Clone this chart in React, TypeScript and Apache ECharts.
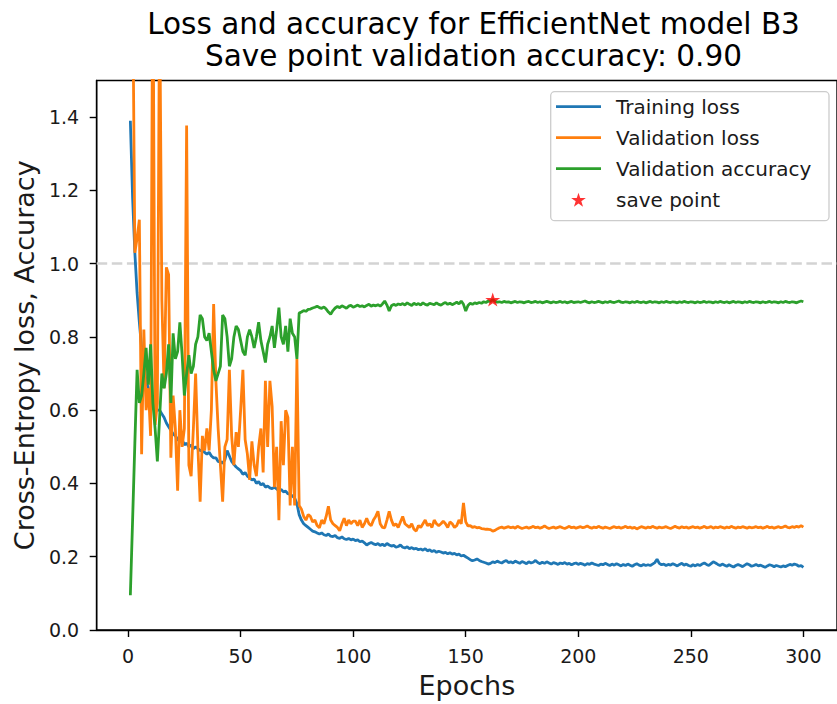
import React, { useEffect, useRef } from "react";
import * as echarts from "echarts";

const FONT = "DejaVu Sans";

const epochs: number[] = Array.from({ length: 300 }, (_, i) => i + 1);

const trainingLoss: number[] = [
  1.39, 1.18, 1.03, 0.92, 0.84, 0.77, 0.72, 0.68, 0.66, 0.64,
  0.62, 0.61, 0.6, 0.6, 0.59, 0.58, 0.565, 0.555, 0.545, 0.535,
  0.53, 0.52, 0.515, 0.52, 0.505, 0.51, 0.5, 0.505, 0.495, 0.5,
  0.495, 0.49, 0.49, 0.485, 0.48, 0.485, 0.475, 0.47, 0.47, 0.46,
  0.46, 0.455, 0.465, 0.49, 0.475, 0.46, 0.452, 0.445, 0.44, 0.435,
  0.425, 0.43, 0.42, 0.415, 0.41, 0.412, 0.4, 0.405, 0.396, 0.4,
  0.39, 0.393, 0.388, 0.386, 0.39, 0.385, 0.38, 0.384, 0.377, 0.379,
  0.372, 0.37, 0.366, 0.36, 0.345, 0.315, 0.3, 0.29, 0.285, 0.28,
  0.275, 0.27, 0.268, 0.265, 0.262, 0.265, 0.26, 0.258, 0.262, 0.256,
  0.255, 0.258, 0.252, 0.25, 0.254, 0.249, 0.247, 0.25, 0.246, 0.248,
  0.244, 0.246, 0.241, 0.243, 0.238, 0.232, 0.236, 0.239, 0.235, 0.233,
  0.236, 0.231, 0.234, 0.23, 0.236, 0.232, 0.229, 0.231, 0.226, 0.228,
  0.232, 0.226, 0.224, 0.227, 0.222, 0.225, 0.221, 0.223, 0.219, 0.221,
  0.218, 0.222, 0.216, 0.219, 0.214, 0.217, 0.212, 0.215, 0.213, 0.21,
  0.212, 0.208, 0.211, 0.207, 0.209, 0.205, 0.207, 0.202, 0.204, 0.2,
  0.196, 0.192, 0.189, 0.191, 0.194, 0.19, 0.187, 0.185, 0.183, 0.18,
  0.182, 0.186, 0.184, 0.188, 0.185, 0.183, 0.187, 0.19, 0.184, 0.186,
  0.183, 0.188, 0.185, 0.182, 0.187, 0.184, 0.181, 0.186, 0.183, 0.185,
  0.19, 0.184, 0.181, 0.185, 0.182, 0.186, 0.183, 0.18, 0.184, 0.182,
  0.179, 0.183, 0.181, 0.184, 0.18, 0.182, 0.178, 0.181, 0.183, 0.179,
  0.182, 0.18, 0.177, 0.181, 0.179, 0.183, 0.18, 0.178, 0.176, 0.18,
  0.178, 0.182, 0.179, 0.176, 0.18, 0.177, 0.181, 0.178, 0.175, 0.179,
  0.176, 0.18, 0.177, 0.174, 0.178, 0.181, 0.177, 0.175, 0.179, 0.176,
  0.178, 0.176, 0.18, 0.184, 0.193, 0.182, 0.178, 0.18, 0.176, 0.179,
  0.177, 0.181, 0.178, 0.175, 0.179, 0.182, 0.177, 0.18, 0.176, 0.174,
  0.178, 0.175, 0.179, 0.176, 0.18, 0.183, 0.179, 0.176, 0.181, 0.186,
  0.183, 0.179, 0.176, 0.18, 0.177, 0.174, 0.178, 0.175, 0.172, 0.176,
  0.179, 0.176, 0.173, 0.177, 0.181, 0.178, 0.174, 0.176, 0.179, 0.175,
  0.177, 0.174, 0.171, 0.175, 0.178, 0.176, 0.173, 0.176, 0.174, 0.172,
  0.175, 0.173, 0.176, 0.179, 0.177, 0.18, 0.178, 0.174, 0.176, 0.171,
];

const validationLoss: number[] = [
  2.6, 1.8, 1.03, 1.07, 1.12, 0.48, 0.82, 0.6, 0.66, 0.53,
  1.9, 0.56, 0.62, 1.75, 0.9, 0.66, 0.99, 0.97, 0.47, 0.64,
  0.55, 0.38, 0.6, 0.5, 0.55, 1.377, 0.45, 0.42, 0.55, 0.7,
  0.5, 0.35, 0.53, 0.49, 0.55, 0.49, 0.6, 0.89, 0.68, 0.55,
  0.45, 0.35, 0.5, 0.52, 0.71, 0.53, 0.45, 0.54, 0.5, 0.6,
  0.71, 0.52, 0.48, 0.41, 0.515, 0.45, 0.42, 0.5, 0.55, 0.43,
  0.68, 0.5, 0.68, 0.61, 0.39, 0.5, 0.3, 0.57, 0.45, 0.6,
  0.58, 0.34, 0.5, 0.34, 0.74, 0.34, 0.33, 0.31, 0.3, 0.315,
  0.31, 0.295, 0.3, 0.285, 0.279, 0.3, 0.29, 0.31, 0.338, 0.3,
  0.29, 0.285, 0.28, 0.271, 0.29, 0.305, 0.285, 0.3, 0.29, 0.297,
  0.297, 0.285, 0.3, 0.28, 0.29, 0.305, 0.29, 0.285, 0.3, 0.31,
  0.324, 0.29, 0.28, 0.279, 0.3, 0.324, 0.3, 0.285, 0.29, 0.28,
  0.295, 0.31, 0.29, 0.285, 0.28, 0.29, 0.275, 0.27, 0.285, 0.28,
  0.29, 0.3, 0.285, 0.29, 0.28, 0.3, 0.29, 0.285, 0.29, 0.297,
  0.29, 0.28, 0.295, 0.29, 0.28, 0.285, 0.3, 0.29, 0.347, 0.295,
  0.284, 0.285, 0.28, 0.282, 0.279, 0.28, 0.277, 0.276, 0.275, 0.275,
  0.274, 0.27, 0.272, 0.276, 0.279, 0.281, 0.278, 0.28, 0.282, 0.279,
  0.281, 0.278, 0.283, 0.28, 0.277, 0.279, 0.281, 0.278, 0.28, 0.283,
  0.279, 0.281, 0.278, 0.28, 0.284, 0.28, 0.277, 0.279, 0.281, 0.278,
  0.28, 0.282, 0.279, 0.277, 0.28, 0.283, 0.279, 0.281, 0.278, 0.28,
  0.282, 0.279, 0.281, 0.284, 0.28, 0.278, 0.281, 0.279, 0.283, 0.28,
  0.278, 0.281, 0.279, 0.277, 0.28, 0.282, 0.279, 0.281, 0.278, 0.28,
  0.283, 0.279, 0.281, 0.278, 0.28, 0.276, 0.279, 0.282, 0.28, 0.278,
  0.281, 0.279, 0.283, 0.28, 0.278, 0.281, 0.279, 0.28, 0.282, 0.279,
  0.277, 0.28, 0.283, 0.28, 0.278, 0.282, 0.279, 0.281, 0.278, 0.28,
  0.282, 0.279, 0.281, 0.278, 0.28, 0.283, 0.279, 0.28, 0.282, 0.278,
  0.281, 0.279, 0.282, 0.28, 0.278, 0.281, 0.279, 0.283, 0.28, 0.278,
  0.281, 0.279, 0.282, 0.28, 0.278, 0.281, 0.279, 0.28, 0.282, 0.279,
  0.281, 0.278, 0.28, 0.283, 0.279, 0.281, 0.278, 0.28, 0.282, 0.279,
  0.281, 0.284, 0.28, 0.279, 0.282, 0.28, 0.283, 0.281, 0.285, 0.281,
];

const validationAccuracy: number[] = [
  0.095, 0.3, 0.51, 0.71, 0.62, 0.64, 0.7, 0.77, 0.67, 0.78,
  0.62, 0.55, 0.46, 0.58, 0.7, 0.66, 0.7, 0.78, 0.62, 0.81,
  0.74, 0.76, 0.84, 0.75, 0.64, 0.7, 0.75, 0.7, 0.72, 0.78,
  0.8, 0.86, 0.85, 0.8, 0.79, 0.81, 0.76, 0.71, 0.68, 0.7,
  0.72, 0.86, 0.85, 0.8, 0.72, 0.74, 0.8, 0.83, 0.82, 0.79,
  0.76, 0.75, 0.8, 0.82, 0.8, 0.77, 0.8, 0.84, 0.79, 0.76,
  0.73, 0.78, 0.8, 0.83, 0.77, 0.82, 0.88, 0.8, 0.78, 0.83,
  0.76, 0.85, 0.81, 0.8, 0.74, 0.865, 0.868, 0.872, 0.87, 0.875,
  0.876, 0.879, 0.881, 0.884, 0.88, 0.878, 0.882, 0.876, 0.868, 0.862,
  0.872, 0.879, 0.883, 0.88, 0.885, 0.882, 0.878, 0.884, 0.886, 0.881,
  0.884, 0.887, 0.883, 0.885, 0.882, 0.886, 0.889, 0.884, 0.887, 0.885,
  0.888, 0.884, 0.89, 0.898, 0.887, 0.871, 0.885, 0.889, 0.886, 0.89,
  0.888, 0.891, 0.887, 0.893, 0.889, 0.886, 0.892, 0.888, 0.891, 0.887,
  0.893, 0.889, 0.887, 0.892, 0.89, 0.888, 0.893, 0.889, 0.887, 0.891,
  0.894, 0.889, 0.892, 0.888, 0.891, 0.895, 0.89, 0.898, 0.889, 0.871,
  0.886, 0.892, 0.889, 0.893, 0.891, 0.894, 0.892, 0.896, 0.894, 0.898,
  0.897, 0.902, 0.897, 0.895, 0.896, 0.894, 0.897, 0.895, 0.896, 0.893,
  0.895, 0.897, 0.894, 0.896, 0.895, 0.893, 0.896, 0.897, 0.894, 0.895,
  0.897, 0.894, 0.896, 0.893, 0.895, 0.897, 0.895, 0.893, 0.896, 0.894,
  0.895, 0.897, 0.894, 0.896, 0.893, 0.895, 0.897, 0.894, 0.895, 0.896,
  0.894, 0.896, 0.898, 0.895, 0.893, 0.896, 0.894, 0.895, 0.897, 0.895,
  0.893, 0.896, 0.894, 0.897, 0.895, 0.894, 0.896, 0.898, 0.895, 0.894,
  0.896, 0.895, 0.893, 0.896, 0.894, 0.897, 0.895, 0.894, 0.896, 0.893,
  0.895, 0.897, 0.894, 0.896, 0.895, 0.893, 0.896, 0.894, 0.897, 0.895,
  0.894, 0.896, 0.895, 0.893, 0.896, 0.894, 0.897, 0.895, 0.894, 0.896,
  0.895, 0.893, 0.896, 0.894, 0.895, 0.897, 0.894, 0.896, 0.895, 0.893,
  0.896, 0.894, 0.897, 0.895, 0.894, 0.896, 0.893, 0.895, 0.897, 0.894,
  0.896, 0.895, 0.893, 0.896, 0.894, 0.897, 0.895, 0.894, 0.896, 0.895,
  0.893, 0.896, 0.894, 0.895, 0.897, 0.894, 0.896, 0.895, 0.893, 0.896,
  0.894, 0.897, 0.895, 0.894, 0.896, 0.895, 0.893, 0.896, 0.898, 0.896,
];

const saveEpoch = 162;
const saveAccuracy = validationAccuracy[saveEpoch - 1];

const xTicks = [0, 50, 100, 150, 200, 250, 300];
const yTicks = [0, 0.2, 0.4, 0.6, 0.8, 1.0, 1.2, 1.4];
const referenceLevel = 1.0;

const STAR =
  "path://M50,0L61.23,34.55L97.55,34.55L68.16,55.9L79.39,90.45L50,69.1L20.61,90.45L31.84,55.9L2.45,34.55L38.77,34.55Z";
const LINE_ICON = "path://M0,0L45,0L45,2.8L0,2.8Z";

const TEXT = "#1a1a1a";

export default function App() {
  const ref = useRef<HTMLDivElement>(null);

  useEffect(() => {
    if (!ref.current) return;
    const chart = echarts.init(ref.current, null, { renderer: "svg" });
    const pair = (arr: number[]) => epochs.map((e, i) => [e, arr[i]]);
    const lineW = 2.8;
    const option: any = {
      animation: false,
      backgroundColor: "#ffffff",
      title: {
        text: "Loss and accuracy for EfficientNet model B3\nSave point validation accuracy: 0.90",
        left: 468.5,
        top: 3,
        textAlign: "center",
        textStyle: {
          fontFamily: FONT,
          fontSize: 29.5,
          fontWeight: "normal",
          color: "#000",
          lineHeight: 32,
        },
      },
      graphic: [
        {
          type: "rect",
          shape: { x: 550.7, y: 91.7, width: 278.3, height: 129, r: 4 },
          style: { fill: "rgba(255,255,255,0.8)", stroke: "#cccccc", lineWidth: 1.3 },
          z: 3,
        },
      ],
      legend: {
        orient: "vertical",
        left: 556,
        top: 94.7,
        padding: 0,
        itemWidth: 45,
        itemHeight: 14,
        itemGap: 7,
        z: 5,
        textStyle: {
          fontFamily: FONT,
          fontSize: 20,
          color: TEXT,
          lineHeight: 24,
          padding: [0, 0, 0, 10],
        },
        data: [
          { name: "Training loss", icon: LINE_ICON },
          { name: "Validation loss", icon: LINE_ICON },
          { name: "Validation accuracy", icon: LINE_ICON },
          { name: "save point", icon: STAR },
        ],
      },
      grid: {
        left: 96.7,
        top: 80.5,
        width: 742.1,
        height: 552.8,
        show: true,
        borderColor: "#000",
        borderWidth: 1.4,
        backgroundColor: "transparent",
      },
      xAxis: {
        type: "value",
        min: -13.95,
        max: 314.95,
        name: "Epochs",
        nameLocation: "middle",
        nameGap: 42,
        nameTextStyle: { fontFamily: FONT, fontSize: 27, color: TEXT },
        axisLine: { show: true, onZero: false, lineStyle: { color: "#000", width: 1.4 } },
        axisTick: {
          show: true,
          length: 7,
          customValues: xTicks,
          lineStyle: { color: "#000", width: 1.4 },
        },
        axisLabel: {
          customValues: xTicks,
          margin: 16,
          fontFamily: FONT,
          fontSize: 19,
          color: TEXT,
          formatter: (v: number) => String(Math.round(v)),
        },
        splitLine: { show: false },
      },
      yAxis: {
        type: "value",
        min: 0,
        max: 1.5,
        name: "Cross-Entropy loss, Accuracy",
        nameLocation: "middle",
        nameGap: 57,
        nameRotate: 90,
        nameTextStyle: { fontFamily: FONT, fontSize: 27, color: TEXT },
        axisLine: { show: true, onZero: false, lineStyle: { color: "#000", width: 1.4 } },
        axisTick: {
          show: true,
          length: 7,
          customValues: yTicks,
          lineStyle: { color: "#000", width: 1.4 },
        },
        axisLabel: {
          customValues: yTicks,
          margin: 17.5,
          fontFamily: FONT,
          fontSize: 19,
          color: TEXT,
          formatter: (v: number) => v.toFixed(1),
        },
        splitLine: { show: false },
      },
      series: [
        {
          name: "Training loss",
          type: "line",
          data: pair(trainingLoss),
          showSymbol: false,
          symbol: "none",
          lineStyle: { color: "#1f77b4", width: lineW },
          itemStyle: { color: "#1f77b4" },
          clip: true,
          z: 2,
          markLine: {
            silent: true,
            symbol: "none",
            label: { show: false },
            lineStyle: { color: "#d3d3d3", width: 2.6, type: [10.5, 4.6] },
            data: [{ yAxis: referenceLevel }],
            z: 1,
          },
        },
        {
          name: "Validation loss",
          type: "line",
          data: pair(validationLoss),
          showSymbol: false,
          symbol: "none",
          lineStyle: { color: "#ff7f0e", width: lineW },
          itemStyle: { color: "#ff7f0e" },
          clip: true,
          z: 2,
        },
        {
          name: "Validation accuracy",
          type: "line",
          data: pair(validationAccuracy),
          showSymbol: false,
          symbol: "none",
          lineStyle: { color: "#2ca02c", width: lineW },
          itemStyle: { color: "#2ca02c" },
          clip: true,
          z: 2,
        },
        {
          name: "save point",
          type: "scatter",
          data: [[saveEpoch, saveAccuracy]],
          symbol: STAR,
          symbolSize: [15, 14],
          itemStyle: { color: "#ff0000" },
          z: 3,
        },
      ],
    };
    chart.setOption(option);
    return () => chart.dispose();
  }, []);

  return (
    <div
      ref={ref}
      style={{ position: "fixed", left: 0, top: 0, width: 837, height: 704, background: "#fff" }}
    />
  );
}
